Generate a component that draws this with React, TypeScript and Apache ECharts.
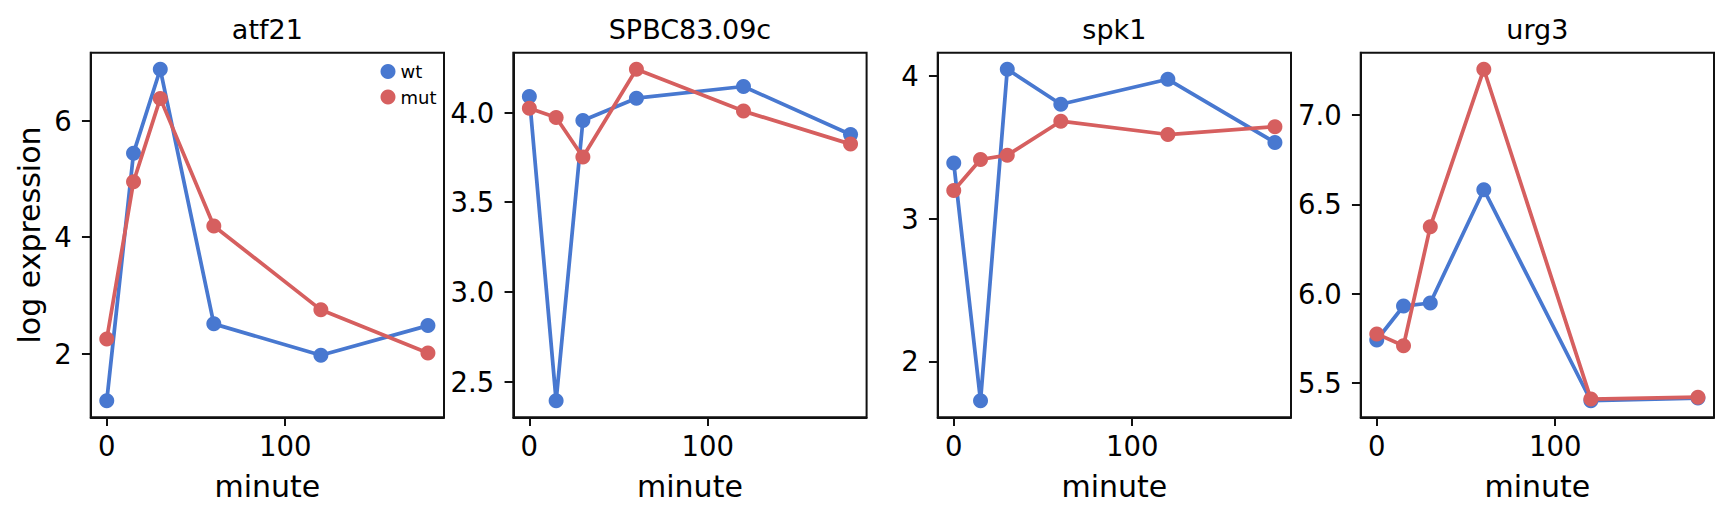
import React, { useEffect, useRef } from "react";
import * as echarts from "echarts";

const minutes = [0, 15, 30, 60, 120, 180];
const genes = ["atf21", "SPBC83.09c", "spk1", "urg3"];
const seriesNames = ["wt", "mut"];

const wtAtf21 = [1.19, 5.44, 6.88, 2.51, 1.97, 2.48];
const mutAtf21 = [2.25, 4.95, 6.38, 4.19, 2.75, 2.01];
const wtSpbc = [4.089, 2.394, 3.955, 4.08, 4.145, 3.878];
const mutSpbc = [4.024, 3.972, 3.752, 4.241, 4.008, 3.824];
const wtSpk1 = [3.39, 1.725, 4.047, 3.802, 3.977, 3.534];
const mutSpk1 = [3.198, 3.415, 3.445, 3.683, 3.59, 3.645];
const wtUrg3 = [5.741, 5.931, 5.948, 6.582, 5.401, 5.416];
const mutUrg3 = [5.775, 5.709, 6.375, 7.256, 5.41, 5.421];

const xTicks = [0, 100];
const xTickLabels = ["0", "100"];
const yTicks1 = [2, 4, 6];
const yTickLabels1 = ["2", "4", "6"];
const yTicks2 = [2.5, 3.0, 3.5, 4.0];
const yTickLabels2 = ["2.5", "3.0", "3.5", "4.0"];
const yTicks3 = [2, 3, 4];
const yTickLabels3 = ["2", "3", "4"];
const yTicks4 = [5.5, 6.0, 6.5, 7.0];
const yTickLabels4 = ["5.5", "6.0", "6.5", "7.0"];

const xLabel = "minute";
const yLabel = "log expression";

const panelData = [
  [wtAtf21, mutAtf21],
  [wtSpbc, mutSpbc],
  [wtSpk1, mutSpk1],
  [wtUrg3, mutUrg3],
];
const panelYTicks = [yTicks1, yTicks2, yTicks3, yTicks4];
const panelYTickLabels = [yTickLabels1, yTickLabels2, yTickLabels3, yTickLabels4];

const COLORS = ["#4878d0", "#d65f5f"];
const FONT = "DejaVu Sans";
const INK = "#000000";
const FRAME = "#111111";

const GRID_LEFTS = [90.7, 513.3, 937.7, 1360.7];
const GRID_TOP = 52.7;
const GRID_W = 353.3;
const GRID_H = 364.6;

function padExtent(vals: number[]) {
  const lo = Math.min(...vals);
  const hi = Math.max(...vals);
  const m = (hi - lo) * 0.05;
  return [lo - m, hi + m];
}

export default function App() {
  const ref = useRef<HTMLDivElement>(null);

  useEffect(() => {
    if (!ref.current) return;
    const chart = echarts.init(ref.current, undefined, { renderer: "svg" });
    const [xMin, xMax] = padExtent(minutes);

    const grids = GRID_LEFTS.map((left) => ({
      left,
      top: GRID_TOP,
      width: GRID_W,
      height: GRID_H,
      show: true,
      borderColor: FRAME,
      borderWidth: 2,
      backgroundColor: "transparent",
    }));

    const xAxes = GRID_LEFTS.map((_, i) => ({
      type: "value",
      gridIndex: i,
      position: "bottom",
      min: xMin,
      max: xMax,
      axisLine: { show: true, onZero: false, lineStyle: { color: FRAME, width: 2 } },
      splitLine: { show: false },
      axisTick: {
        show: true,
        inside: false,
        customValues: xTicks,
        length: 8.75,
        lineStyle: { color: FRAME, width: 2 },
      },
      axisLabel: {
        show: true,
        customValues: xTicks,
        formatter: (v: number) => xTickLabels[xTicks.indexOf(v)] ?? String(v),
        fontSize: 27.5,
        fontFamily: FONT,
        color: INK,
        margin: 15,
      },
    }));

    const yAxes = GRID_LEFTS.map((_, i) => {
      const all = panelData[i][0].concat(panelData[i][1]);
      const [yMin, yMax] = padExtent(all);
      const ticks = panelYTicks[i];
      const labels = panelYTickLabels[i];
      return {
        type: "value",
        gridIndex: i,
        position: "left",
        min: yMin,
        max: yMax,
        axisLine: { show: true, onZero: false, lineStyle: { color: FRAME, width: 2 } },
        splitLine: { show: false },
        axisTick: {
          show: true,
          inside: false,
          customValues: ticks,
          length: 8.75,
          lineStyle: { color: FRAME, width: 2 },
        },
        axisLabel: {
          show: true,
          customValues: ticks,
          formatter: (v: number) => {
            const k = ticks.findIndex((t) => Math.abs(t - v) < 1e-9);
            return k >= 0 ? labels[k] : String(v);
          },
          fontSize: 27.5,
          fontFamily: FONT,
          color: INK,
          margin: 19,
        },
      };
    });

    const series: any[] = [];
    panelData.forEach((pair, i) => {
      pair.forEach((vals, s) => {
        series.push({
          type: "line",
          name: seriesNames[s],
          xAxisIndex: i,
          yAxisIndex: i,
          data: minutes.map((m, k) => [m, vals[k]]),
          symbol: "circle",
          symbolSize: 15,
          showSymbol: true,
          color: COLORS[s],
          itemStyle: { color: COLORS[s] },
          lineStyle: { color: COLORS[s], width: 3.75 },
          z: 2 + s,
        });
      });
    });

    const graphics: any[] = [];
    GRID_LEFTS.forEach((left, i) => {
      const cx = left + GRID_W / 2;
      graphics.push({
        type: "text",
        x: cx,
        y: 29.8,
        style: {
          text: genes[i],
          fontSize: 27,
          fontFamily: FONT,
          fill: INK,
          align: "center",
          textAlign: "center",
          verticalAlign: "middle",
          textVerticalAlign: "middle",
        },
      });
      graphics.push({
        type: "text",
        x: cx,
        y: 486.2,
        style: {
          text: xLabel,
          fontSize: 30,
          fontFamily: FONT,
          fill: INK,
          align: "center",
          textAlign: "center",
          verticalAlign: "middle",
          textVerticalAlign: "middle",
        },
      });
    });
    graphics.push({
      type: "text",
      x: 29.5,
      y: GRID_TOP + GRID_H / 2,
      rotation: Math.PI / 2,
      style: {
        text: yLabel,
        fontSize: 30,
        fontFamily: FONT,
        fill: INK,
        align: "center",
        textAlign: "center",
        verticalAlign: "middle",
        textVerticalAlign: "middle",
      },
    });

    chart.setOption({
      animation: false,
      backgroundColor: "#ffffff",
      textStyle: { fontFamily: FONT },
      grid: grids,
      xAxis: xAxes,
      yAxis: yAxes,
      series,
      legend: {
        data: seriesNames,
        orient: "vertical",
        left: 380.5,
        top: 62.5,
        itemWidth: 15,
        itemHeight: 15,
        itemGap: 7.5,
        icon: "circle",
        padding: 0,
        textStyle: { fontSize: 18, fontFamily: FONT, color: INK },
      },
      graphic: graphics,
    });

    return () => chart.dispose();
  }, []);

  return (
    <div
      ref={ref}
      style={{ position: "absolute", left: 0, top: 0, width: 1729, height: 520 }}
    />
  );
}
